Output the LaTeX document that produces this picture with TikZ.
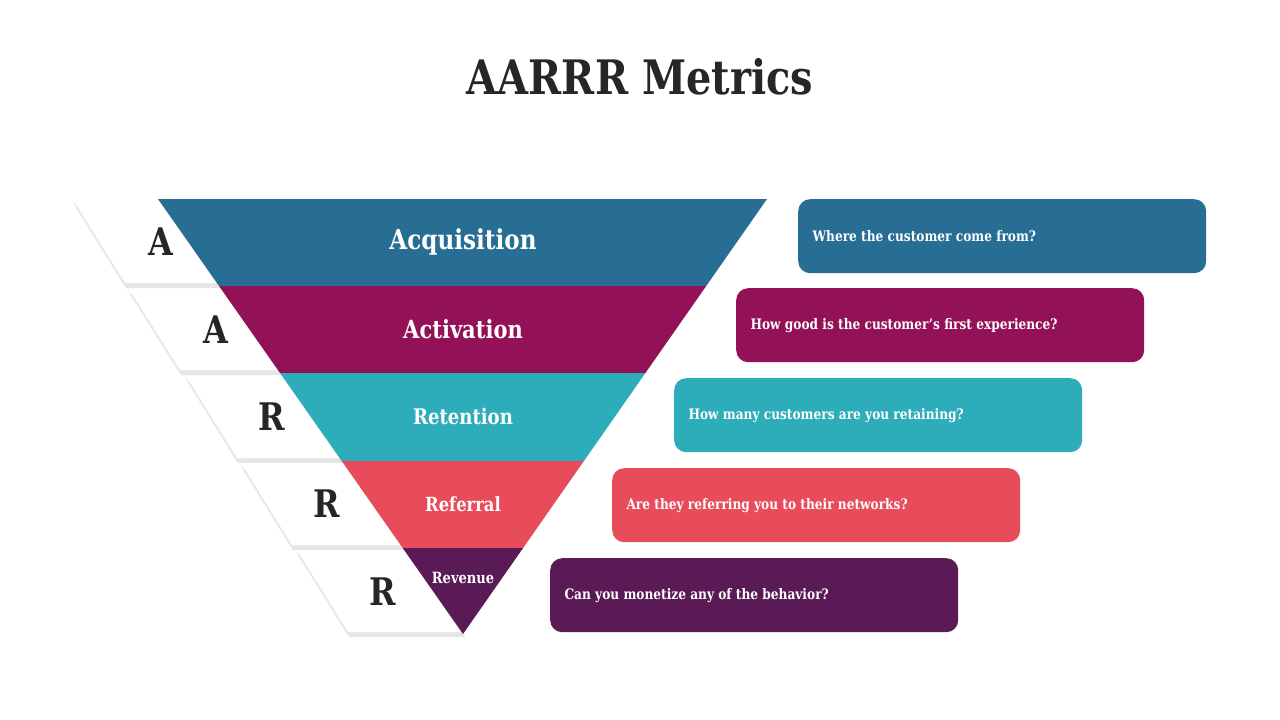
\documentclass[tikz,border=0pt]{standalone}
\usepackage{fontspec}
\usetikzlibrary{calc}
\setmainfont{DejaVu Serif}[FakeStretch=0.84]
\definecolor{cA}{HTML}{286E94}
\definecolor{cB}{HTML}{931257}
\definecolor{cC}{HTML}{2DACBA}
\definecolor{cD}{HTML}{E84C5A}
\definecolor{cE}{HTML}{5A1A56}
\definecolor{ttl}{HTML}{262626}
\definecolor{shd}{HTML}{E6E6E6}
\begin{document}
\begin{tikzpicture}[x=1pt,y=-1pt,
  tab/.style={fill=white},
  tabshadow/.style={fill=shd},
  tabglow/.style={fill=black!3},
  letter/.style={text=ttl,font=\bfseries\fontsize{38}{40}\selectfont,anchor=center},
  stage/.style={text=white,font=\bfseries\fontsize{#1}{#1}\selectfont,anchor=center},
  qbox/.style={fill=#1,rounded corners=12pt,draw=none,minimum width=408pt,minimum height=74pt,anchor=north west,inner sep=0pt},
  qtext/.style={text=white,font=\bfseries\fontsize{14.5}{16}\selectfont,anchor=west}
]
\useasboundingbox (0,0) rectangle (1280,720);
\fill[white] (0,0) rectangle (1280,720);
\node[text=ttl,font=\bfseries\fontsize{47.5}{56}\selectfont] (title) at (640,77) {AARRR Metrics};
% tabs, clipped to the left of the funnel edge
\begin{scope}
\clip (0,150) -- (124.5,150) -- (509.5,700) -- (0,700) -- cycle;
\foreach \tx/\ty/\bx/\by in {74/201/125/283, 129/289/180/370, 186/376/237/458, 241/463/292/545, 297/550/348/632}{
  \fill[tabglow] (\tx-2,\ty) -- (600,\ty) -- (600,\by+2) -- (\bx-1.5,\by+2) -- cycle;
  \fill[tabshadow] (\tx+1,\ty+5) -- (600,\ty+5) -- (600,\by+5) -- (\bx+1,\by+5) -- cycle;
  \fill[tab] (\tx,\ty) -- (600,\ty) -- (600,\by) -- (\bx,\by) -- cycle;
}
\end{scope}
% funnel bands
\coordinate (fl) at (158,199); \coordinate (fr) at (767,199);
\coordinate (apex) at (463,634);
\fill[cA] (fl) -- (fr) -- ($(fr)!87/435!(apex)$) -- ($(fl)!87/435!(apex)$) -- cycle;
\fill[cB] ($(fl)!87/435!(apex)$) -- ($(fr)!87/435!(apex)$) -- ($(fr)!174/435!(apex)$) -- ($(fl)!174/435!(apex)$) -- cycle;
\fill[cC] ($(fl)!174/435!(apex)$) -- ($(fr)!174/435!(apex)$) -- ($(fr)!262/435!(apex)$) -- ($(fl)!262/435!(apex)$) -- cycle;
\fill[cD] ($(fl)!262/435!(apex)$) -- ($(fr)!262/435!(apex)$) -- ($(fr)!349/435!(apex)$) -- ($(fl)!349/435!(apex)$) -- cycle;
\fill[cE] ($(fl)!349/435!(apex)$) -- ($(fr)!349/435!(apex)$) -- (apex) -- cycle;
% letters
\node[letter] (l1) at (161,242) {A};
\node[letter] (l2) at (216,330) {A};
\node[letter] (l3) at (272,417) {R};
\node[letter] (l4) at (327,504) {R};
\node[letter] (l5) at (383,592) {R};
% stage names
\node[stage=27.5] (s1) at (463,242) {Acquisition};
\node[stage=25] (s2) at (463,329) {Activation};
\node[stage=21.5] (s3) at (463,416) {Retention};
\node[stage=19.5] (s4) at (463,504) {Referral};
\node[stage=15.5] (s5) at (463,578) {Revenue};
% question boxes
\node[qbox=cA] (b1) at (798,199) {};
\node[qbox=cB] (b2) at (736,288) {};
\node[qbox=cC] (b3) at (674,378) {};
\node[qbox=cD] (b4) at (612,468) {};
\node[qbox=cE] (b5) at (550,558) {};
\node[qtext] (q1) at ([xshift=11pt]b1.west) {Where the customer come from?};
\node[qtext] (q2) at ([xshift=11pt]b2.west) {How good is the customer’s first experience?};
\node[qtext] (q3) at ([xshift=11pt]b3.west) {How many customers are you retaining?};
\node[qtext] (q4) at ([xshift=11pt]b4.west) {Are they referring you to their networks?};
\node[qtext] (q5) at ([xshift=11pt]b5.west) {Can you monetize any of the behavior?};
\end{tikzpicture}
\end{document}
